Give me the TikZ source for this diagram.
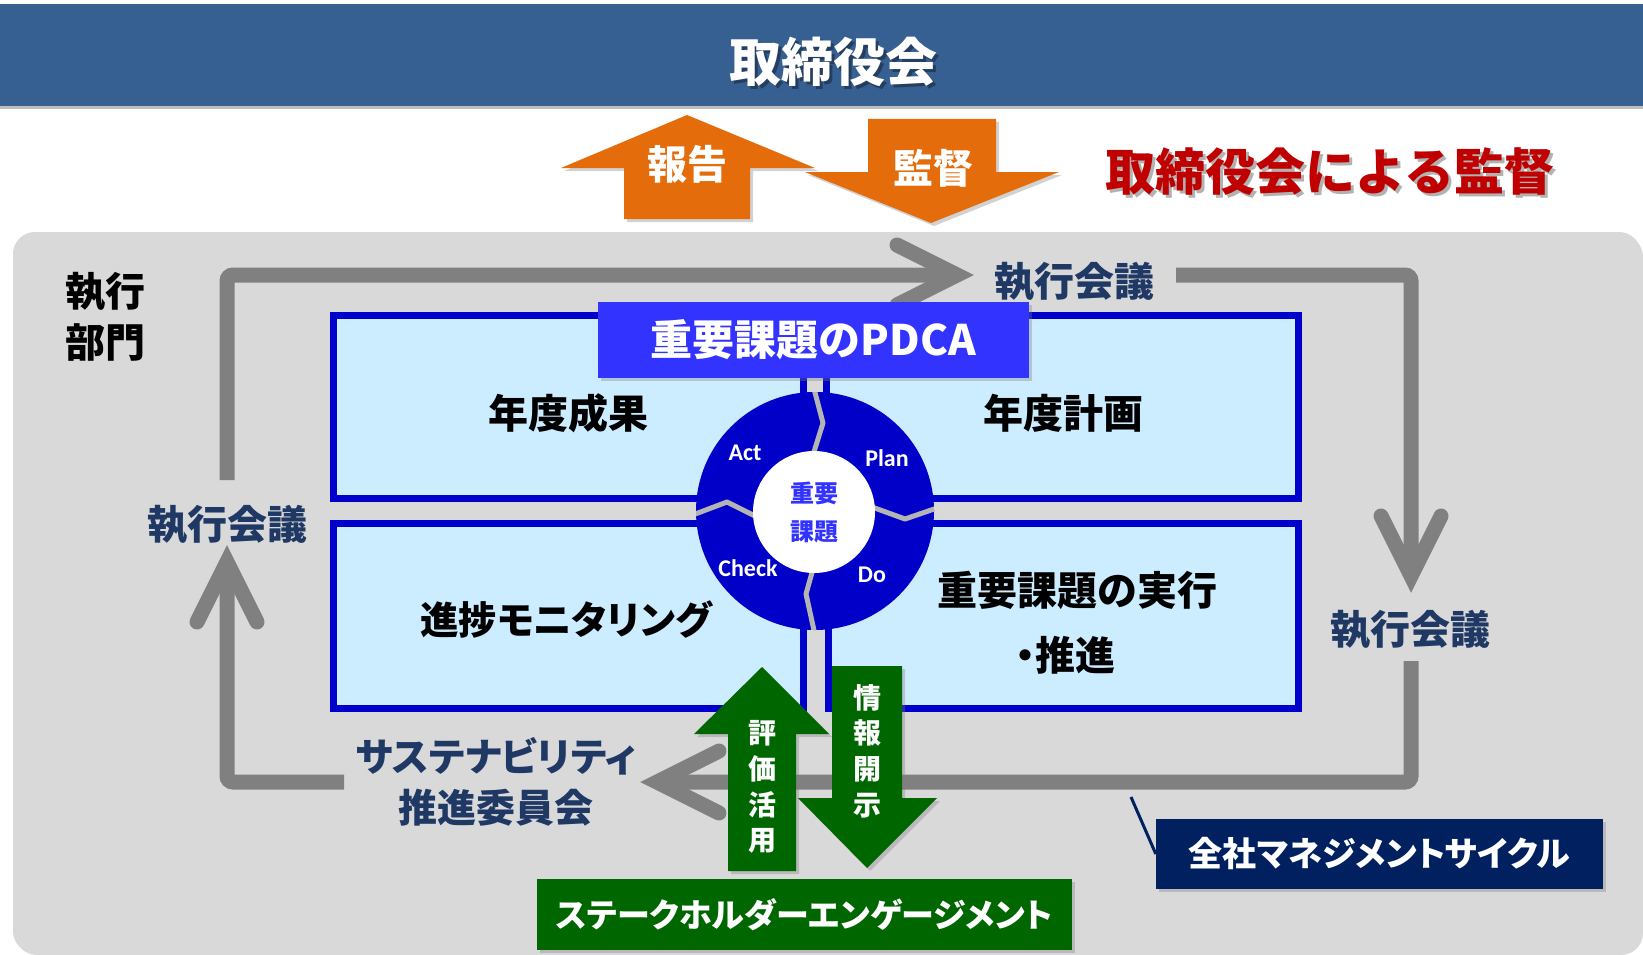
\documentclass[tikz,border=0pt]{standalone}
\usepackage{fontspec}
\setmainfont{Noto Sans CJK JP}
\newfontfamily\jpp{Noto Sans CJK JP}[RawFeature=+palt]
\newfontfamily\calfont{Carlito}
\usetikzlibrary{shadows,calc}
\definecolor{bannerblue}{HTML}{376092}
\definecolor{orng}{HTML}{E46C0A}
\definecolor{darkred}{HTML}{C00000}
\definecolor{bggray}{HTML}{D9D9D9}
\definecolor{loopgray}{HTML}{808080}
\definecolor{navytext}{HTML}{1F3864}
\definecolor{navybox}{HTML}{002060}
\definecolor{lightblue}{HTML}{CCECFF}
\definecolor{boxblue}{HTML}{0000CC}
\definecolor{headblue}{HTML}{3333FF}
\definecolor{pdcablue}{HTML}{0000C8}
\definecolor{grn}{HTML}{006600}
\definecolor{gapgray}{HTML}{B4B4B4}
\newcommand{\setfs}[2]{\fontsize{#1}{#2}\selectfont}
\begin{document}
\begin{tikzpicture}[x=1pt,y=-1pt,
  txt/.style={inner sep=0pt, outer sep=0pt, align=center},
  loopline/.style={draw=loopgray, line width=15pt, rounded corners=6pt},
  chev/.style={draw=loopgray, line width=15pt, line cap=round, line join=miter},
  shad/.style={drop shadow={opacity=0.35, shadow xshift=3pt, shadow yshift=-3pt}},
  pbox/.style={draw=boxblue, line width=7pt, fill=lightblue, inner sep=0pt, shad},
  pdcalab/.style={font=\calfont\bfseries\setfs{24}{24}, text=white, inner sep=0pt},
]
\useasboundingbox (0,0) rectangle (1643,955);
\fill[white] (0,0) rectangle (1643,955);
% banner
\fill[black!25] (0,6) rectangle (1643,109);
\node[fill=bannerblue, minimum width=1643pt, minimum height=102pt, anchor=north west, inner sep=0pt, outer sep=0pt] (banner) at (0,4) {};
\node[txt, text=black, opacity=0.35, font=\bfseries\setfs{52}{52}] at (836,65) {取締役会};
\node[txt, text=white, font=\bfseries\setfs{52}{52}] (title) at (833,62) {取締役会};
% orange arrows
\fill[orng, shad] (687,115) -- (815,168) -- (750,168) -- (750,219) -- (624,219) -- (624,168) -- (561,168) -- cycle;
\fill[orng, shad] (868,119) -- (996,119) -- (996,172) -- (1059,172) -- (931,223) -- (805,172) -- (868,172) -- cycle;
\node[txt, text=white, font=\bfseries\setfs{40}{40}] (report) at (687,164) {報告};
\node[txt, text=white, font=\bfseries\setfs{40}{40}] (superv) at (933,168) {監督};
\node[txt, text=black, opacity=0.3, font=\bfseries\setfs{50}{50}] at (1333,175) {取締役会による監督};
\node[txt, text=darkred, font=\bfseries\setfs{50}{50}] (redtitle) at (1330,172) {取締役会による監督};
% background
\fill[black!15, rounded corners=22pt] (15,235) rectangle (1643,955);
\fill[bggray, rounded corners=22pt] (13,232) rectangle (1641,953);
\node[txt, font=\bfseries\setfs{40}{51}] (dept) at (105,317) {執行\\部門};
% loop
\coordinate (l0) at (227,480);
\coordinate (c1) at (227,275);
\coordinate (ttip) at (957,275);
\node[txt, text=navytext, font=\bfseries\setfs{40}{40}] (etop) at (1074,282) {執行会議};
\coordinate (r0) at (1176,275);
\coordinate (c2) at (1411,275);
\coordinate (rtip) at (1411,576);
\node[txt, text=navytext, font=\bfseries\setfs{40}{40}] (eright) at (1410,630) {執行会議};
\coordinate (r2) at (1411,661);
\coordinate (c3) at (1411,782);
\coordinate (btip) at (657,782);
\node[txt, text=navytext, font=\bfseries\jpp\setfs{39}{51}] (sus) at (496,782) {サステナビリティ\\推進委員会};
\coordinate (b2) at (344,782);
\coordinate (c4) at (227,782);
\coordinate (ltip) at (227,562);
\node[txt, text=navytext, font=\bfseries\setfs{40}{40}] (eleft) at (227,525) {執行会議};
\draw[loopline] (l0) -- (c1) -- (ttip);
\draw[chev] ($(ttip)+(-60,-30)$) -- (ttip) -- ($(ttip)+(-60,30)$);
\draw[loopline] (r0) -- (c2) -- (rtip);
\draw[chev] ($(rtip)+(-30,-60)$) -- (rtip) -- ($(rtip)+(30,-60)$);
\draw[loopline] (r2) -- (c3) -- (btip);
\draw[chev] ($(btip)+(62,-31)$) -- (btip) -- ($(btip)+(62,31)$);
\draw[loopline] (b2) -- (c4) -- (ltip);
\draw[chev] ($(ltip)+(-30,60)$) -- (ltip) -- ($(ltip)+(30,60)$);
% boxes
\node[pbox, minimum width=470pt, minimum height=183pt] (tl) at (568.5,407) {};
\node[pbox, minimum width=472pt, minimum height=183pt] (tr) at (1062.5,407) {};
\node[pbox, minimum width=470pt, minimum height=185pt] (bl) at (568.5,616) {};
\node[pbox, minimum width=470pt, minimum height=185pt] (br) at (1063.5,616) {};
\node[txt, font=\bfseries\setfs{40}{40}] (t1) at (568,413) {年度成果};
\node[txt, font=\bfseries\setfs{40}{40}] (t2) at (1063,413) {年度計画};
\node[txt, font=\bfseries\jpp\setfs{38.5}{40}] (t3) at (566,620) {進捗モニタリング};
\node[txt, font=\bfseries\setfs{40}{40}] (t4) at (1077,590) {重要課題の実行};
\node[txt, font=\bfseries\jpp\setfs{40}{40}] (t5) at (1065,655) {・推進};
% header
\node[fill=headblue, text=white, font=\bfseries\setfs{42}{42}, minimum width=431pt, minimum height=76pt, inner sep=0pt, shad] (hdr) at (813.5,340) {重要課題のPDCA};
% PDCA circle
\coordinate (pc) at (815,511);
\fill[pdcablue] (pc) circle[radius=119pt];
\begin{scope}
\clip (pc) circle[radius=119pt];
\draw[gapgray, line width=5pt, line join=round] (813,385) -- (823,423) -- (813,455);
\draw[gapgray, line width=5pt, line join=round] (872,507) -- (905,519) -- (940,507);
\draw[gapgray, line width=5pt, line join=round] (813,569) -- (806,594) -- (815,635);
\draw[gapgray, line width=5pt, line join=round] (755,516) -- (727,502) -- (690,516);
\end{scope}
\node[circle, fill=white, minimum size=122pt, inner sep=0pt] (core) at (814,512) {};
\node[txt, text=headblue, font=\bfseries\setfs{24}{38}] (coretext) at (core) {重要\\課題};
\node[pdcalab] (act) at (745,453) {Act};
\node[pdcalab] (plan) at (887,458) {Plan};
\node[pdcalab] (check) at (748,568) {Check};
\node[pdcalab] (do) at (872,575) {Do};
% green arrows
\fill[grn, shad] (762,667) -- (829,734) -- (796,734) -- (796,871) -- (728,871) -- (728,734) -- (694,734) -- cycle;
\fill[grn, shad] (832,666) -- (902,666) -- (902,798) -- (937,798) -- (867,868) -- (798,798) -- (832,798) -- cycle;
\node[txt, text=white, font=\bfseries\setfs{28}{35.7}] (hyoka) at (762,787) {評\\価\\活\\用};
\node[txt, text=white, font=\bfseries\setfs{28}{35.7}] (joho) at (867,751) {情\\報\\開\\示};
% bottom boxes
\node[fill=grn, text=white, font=\bfseries\jpp\setfs{33}{33}, minimum width=535pt, minimum height=71pt, inner sep=0pt, shad] (stake) at (804.5,914.5) {ステークホルダーエンゲージメント};
\node[fill=navybox, text=white, font=\bfseries\jpp\setfs{34}{34}, minimum width=447pt, minimum height=70pt, inner sep=0pt, shad] (cyc) at (1379.5,854) {全社マネジメントサイクル};
\coordinate (cc) at (1131,797);
\draw[navybox, line width=3pt] (cc) -- (cyc.west);
\end{tikzpicture}
\end{document}
